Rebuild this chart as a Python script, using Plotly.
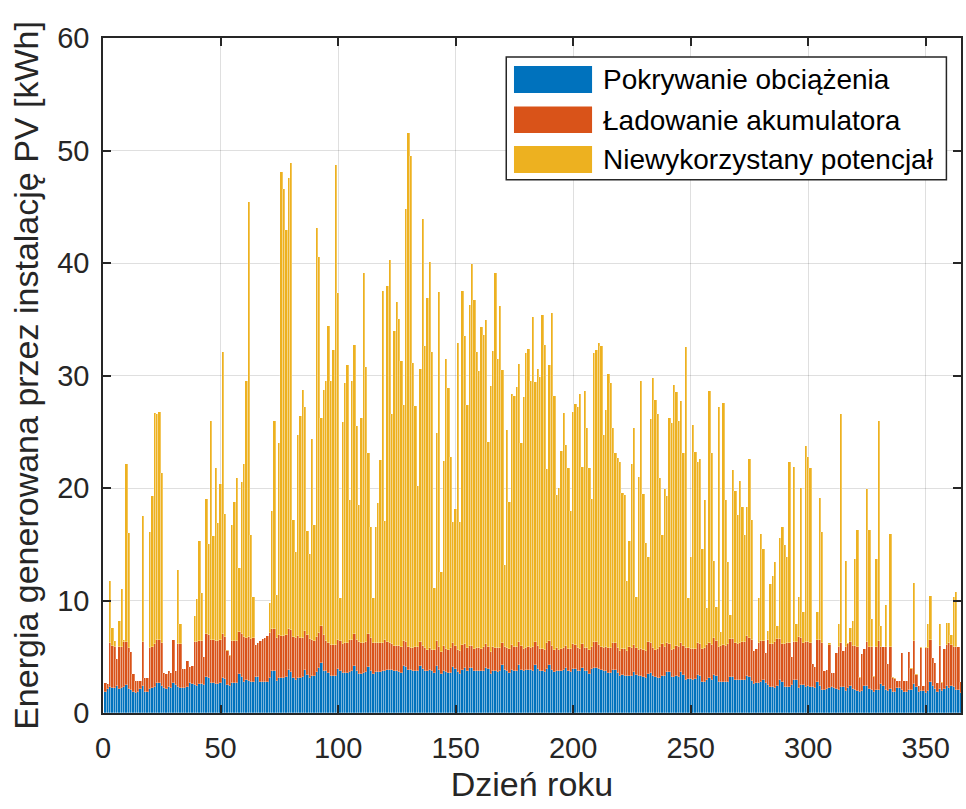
import numpy as np
import plotly.graph_objects as go

days = list(range(1, 366))

# Level of the blue segment (Pokrywanie obciążenia) [kWh]
pokrywanie = [
    1.9, 2.1, 2.35, 2.2, 2.2, 2.4, 2.1, 2.2, 2.35, 2.5,
    2.1, 2.05, 1.9, 1.75, 1.9, 2.1, 2.4, 1.9, 1.9, 2.1,
    2.2, 2.3, 2.7, 2.7, 2.4, 2.2, 2.1, 2.3, 2.25, 2.7,
    2.5, 2.3, 2.2, 2.2, 2.2, 2.35, 2.65, 2.6, 2.5, 2.4,
    2.55, 2.55, 2.5, 3.2, 3.1, 2.7, 2.7, 2.6, 2.55, 2.7,
    3.15, 3.0, 2.5, 2.4, 2.65, 2.65, 2.7, 3.45, 3.2, 2.8,
    2.94, 2.82, 2.73, 2.79, 3.18, 3.18, 2.73, 2.73, 2.79, 2.79,
    3.09, 3.69, 3.69, 2.88, 3.09, 3.12, 3.12, 3.24, 3.78, 3.63,
    3.09, 2.97, 3.09, 3.09, 3.24, 3.84, 3.42, 3.12, 3.27, 3.33,
    3.63, 3.99, 4.47, 3.72, 3.69, 3.54, 3.27, 3.33, 3.33, 3.87,
    3.72, 3.54, 3.54, 3.57, 3.63, 3.69, 4.17, 3.69, 3.48, 3.48,
    3.54, 3.63, 4.08, 3.72, 3.48, 3.63, 3.63, 3.63, 3.69, 3.72,
    3.78, 3.78, 3.78, 3.69, 3.69, 3.63, 3.54, 4.17, 4.08, 3.84,
    3.78, 3.72, 3.72, 3.72, 4.17, 3.87, 3.72, 3.69, 3.78, 3.69,
    3.54, 4.14, 3.78, 3.48, 3.72, 3.63, 3.54, 3.54, 4.08, 3.87,
    3.63, 3.48, 3.78, 3.99, 3.72, 3.99, 3.99, 3.69, 3.69, 3.72,
    3.72, 3.69, 4.02, 3.87, 3.48, 3.69, 3.72, 3.63, 3.72, 4.23,
    3.78, 3.72, 3.57, 3.84, 3.69, 3.72, 4.23, 3.84, 3.69, 3.78,
    3.78, 3.78, 3.69, 4.23, 3.87, 3.69, 3.72, 3.63, 3.93, 4.23,
    3.84, 3.63, 3.72, 3.69, 3.69, 3.78, 3.99, 3.69, 3.63, 3.93,
    3.87, 3.69, 3.72, 3.99, 3.72, 3.69, 3.48, 3.87, 4.02, 3.99,
    3.93, 3.78, 3.72, 3.69, 3.57, 3.54, 3.84, 3.84, 3.54, 3.33,
    3.42, 3.27, 3.27, 3.33, 3.33, 3.63, 3.39, 3.27, 3.27, 3.18,
    3.12, 3.48, 3.57, 3.33, 3.24, 3.09, 3.09, 3.27, 3.27, 3.63,
    3.63, 3.18, 3.18, 3.33, 3.24, 3.63, 3.42, 2.94, 3.03, 3.03,
    2.97, 3.03, 3.39, 3.33, 2.79, 2.79, 2.94, 3.09, 2.97, 3.39,
    3.27, 2.79, 2.79, 2.79, 2.73, 2.79, 3.24, 3.24, 2.94, 2.94,
    2.94, 2.94, 2.94, 3.33, 3.18, 2.88, 2.6, 2.65, 2.7, 2.8,
    2.9, 2.7, 2.45, 2.3, 2.35, 2.2, 2.4, 2.9, 2.8, 2.35,
    2.35, 2.35, 2.45, 2.95, 2.95, 2.2, 2.45, 2.45, 2.35, 2.37,
    2.3, 2.3, 2.2, 2.73, 2.43, 2.04, 2.04, 2.13, 2.22, 2.34,
    2.22, 2.13, 2.07, 2.28, 2.34, 1.98, 2.22, 2.43, 2.13, 2.04,
    1.92, 1.83, 1.98, 2.37, 2.43, 2.13, 2.04, 1.89, 2.04, 2.04,
    2.58, 2.43, 2.04, 1.98, 2.13, 1.89, 1.89, 2.22, 2.22, 2.04,
    1.83, 1.83, 2.04, 2.04, 2.58, 2.34, 1.83, 1.98, 1.92, 1.74,
    1.92, 2.73, 2.43, 2.13, 1.83, 2.13, 1.98, 2.13, 2.37, 2.19,
    2.43, 2.28, 2.04, 2.04, 1.74,
]

# Top of the orange segment (Pokrywanie + Ładowanie) [kWh]
poziom_ladowania = [
    2.7, 2.6, 6.2, 6.0, 5.9, 4.8, 5.9, 5.9, 6.3, 6.3,
    5.8, 5.4, 3.45, 2.85, 2.85, 2.85, 6.3, 3.1, 3.1, 5.8,
    5.9, 6.1, 6.5, 6.5, 6.2, 3.6, 3.45, 3.7, 3.6, 6.5,
    3.7, 6.1, 6.1, 3.9, 3.95, 4.6, 4.1, 4.2, 6.3, 6.3,
    6.4, 6.4, 5.0, 7.0, 6.9, 6.5, 6.5, 6.4, 6.4, 6.5,
    7.0, 6.8, 5.5, 5.1, 6.4, 6.4, 6.4, 7.2, 7.0, 6.79,
    6.64, 6.73, 6.55, 6.7, 6.04, 6.25, 6.4, 6.55, 6.7, 6.85,
    7.09, 7.48, 7.48, 6.7, 6.94, 6.88, 6.85, 6.94, 7.48, 7.39,
    6.79, 6.7, 6.85, 6.7, 6.7, 7.3, 6.94, 6.58, 6.49, 6.43,
    6.79, 7.09, 7.69, 6.94, 6.4, 6.25, 6.04, 6.04, 6.04, 6.49,
    6.4, 6.1, 6.19, 6.25, 6.49, 6.49, 7.0, 6.49, 6.28, 6.25,
    6.25, 6.34, 7.03, 6.7, 6.19, 6.19, 6.19, 6.19, 6.19, 6.49,
    6.34, 6.19, 6.13, 5.95, 5.98, 5.95, 5.89, 6.43, 6.34, 5.89,
    5.8, 5.8, 5.89, 5.89, 6.34, 5.98, 5.74, 5.59, 5.8, 5.59,
    5.59, 6.43, 5.89, 5.44, 5.95, 5.65, 5.59, 5.74, 6.25, 5.98,
    5.59, 5.5, 6.04, 6.1, 5.74, 5.95, 5.95, 5.65, 5.74, 5.74,
    5.65, 5.89, 6.1, 5.89, 5.44, 5.89, 5.8, 5.74, 5.8, 6.25,
    5.89, 5.8, 5.65, 6.04, 5.89, 5.89, 6.34, 5.98, 5.65, 5.8,
    5.89, 5.8, 5.89, 6.34, 5.95, 5.68, 5.68, 5.59, 6.19, 6.4,
    5.95, 5.59, 5.74, 5.59, 5.65, 5.74, 5.95, 5.65, 5.65, 6.13,
    6.04, 5.74, 5.65, 6.1, 5.74, 5.74, 5.59, 5.89, 6.28, 6.28,
    6.04, 5.89, 5.74, 5.89, 5.74, 5.74, 6.19, 6.19, 5.74, 5.53,
    5.65, 5.65, 5.53, 5.89, 5.74, 6.04, 5.8, 5.59, 5.68, 5.59,
    5.53, 6.28, 6.25, 5.74, 5.59, 5.65, 5.89, 6.1, 5.89, 6.25,
    6.13, 5.59, 5.65, 5.95, 5.89, 6.25, 5.95, 5.74, 5.74, 5.65,
    5.65, 5.65, 6.19, 6.1, 5.68, 5.8, 6.04, 6.19, 6.04, 6.7,
    6.4, 5.89, 5.95, 6.04, 5.95, 6.13, 6.58, 6.58, 6.19, 6.1,
    6.25, 6.28, 6.28, 6.85, 6.7, 6.49, 5.5, 5.7, 6.2, 6.4,
    6.4, 5.3, 6.5, 6.1, 6.1, 6.35, 6.6, 6.55, 6.15, 6.15,
    6.2, 6.2, 5.0, 6.3, 6.35, 6.8, 6.7, 6.25, 6.35, 6.3,
    6.2, 4.4, 4.1, 6.49, 6.49, 6.25, 3.72, 3.78, 6.04, 3.54,
    3.54, 5.29, 5.89, 6.19, 5.5, 5.89, 6.1, 6.28, 5.95, 5.95,
    5.89, 3.09, 5.23, 5.65, 6.34, 5.89, 5.89, 3.18, 5.83, 6.43,
    5.83, 5.83, 5.83, 4.32, 5.89, 3.09, 3.03, 2.88, 2.82, 5.29,
    2.88, 2.82, 5.44, 3.93, 6.4, 3.39, 2.4, 5.74, 2.4, 5.74,
    5.8, 6.49, 4.89, 4.44, 2.64, 5.98, 2.64, 5.65, 6.04, 6.25,
    6.04, 5.89, 5.89, 5.83, 2.73,
]

# Total daily PV generation (top of the yellow segment) [kWh]
calkowita = [
    2.7, 2.6, 11.7, 7.6, 6.4, 4.8, 8.2, 11.0, 6.5, 22.1,
    16.0, 5.4, 3.45, 2.85, 2.85, 2.85, 17.5, 3.1, 3.1, 16.1,
    19.3, 26.7, 26.6, 26.8, 21.3, 3.6, 3.45, 3.7, 3.6, 6.5,
    3.7, 12.7, 7.9, 3.9, 3.95, 4.6, 4.1, 4.2, 8.6, 10.1,
    15.3, 10.7, 5.0, 19.0, 15.0, 26.0, 15.7, 21.8, 16.9, 20.4,
    32.1, 17.7, 5.6, 5.2, 16.7, 18.8, 20.9, 12.9, 20.5, 22.1,
    29.5, 45.4, 15.8, 10.3, 6.04, 6.25, 6.4, 6.55, 6.7, 6.85,
    9.8, 18.0, 26.0, 10.5, 24.0, 48.1, 46.6, 42.9, 47.6, 48.9,
    17.2, 14.3, 24.7, 26.4, 28.7, 27.2, 16.2, 14.1, 24.4, 16.7,
    43.1, 40.5, 26.2, 28.7, 29.5, 34.4, 29.5, 32.3, 48.7, 37.3,
    10.2, 25.9, 29.3, 30.9, 18.9, 29.5, 32.7, 25.5, 18.5, 26.2,
    39.1, 30.8, 23.1, 16.5, 10.2, 16.5, 18.7, 22.5, 37.5, 17.1,
    38.0, 40.3, 26.6, 34.0, 36.5, 35.0, 31.3, 27.4, 44.8, 51.6,
    49.5, 31.1, 27.3, 20.2, 30.6, 43.9, 32.6, 36.9, 40.1, 32.1,
    11.1, 24.9, 37.4, 12.5, 22.4, 31.5, 28.9, 22.8, 17.0, 18.1,
    32.9, 17.0, 37.5, 33.5, 27.4, 36.3, 39.9, 36.7, 32.1, 30.4,
    34.3, 33.6, 34.9, 24.1, 29.1, 32.2, 39.1, 31.5, 36.2, 30.5,
    13.2, 25.2, 18.8, 28.4, 28.2, 29.0, 31.0, 24.0, 28.1, 32.0,
    32.4, 29.5, 35.2, 29.4, 30.6, 29.9, 35.4, 32.7, 21.7, 30.9,
    35.6, 28.2, 19.4, 20.0, 23.3, 26.7, 23.8, 21.8, 18.0, 26.8,
    27.5, 27.2, 28.4, 21.9, 28.6, 25.3, 21.8, 19.0, 32.0, 32.3,
    32.9, 32.6, 24.7, 26.9, 30.1, 29.3, 25.3, 23.1, 22.7, 22.3,
    19.6, 19.4, 11.7, 15.3, 22.1, 25.3, 10.3, 21.0, 29.5, 19.5,
    15.1, 13.9, 26.1, 29.8, 27.8, 26.6, 20.9, 15.8, 19.9, 19.3,
    26.2, 25.8, 29.2, 28.5, 26.0, 27.7, 23.1, 32.5, 10.2, 13.9,
    25.6, 23.2, 22.3, 22.6, 14.6, 18.9, 9.3, 28.6, 23.1, 13.5,
    9.4, 27.2, 7.2, 27.6, 18.9, 13.4, 8.7, 21.6, 19.7, 17.6,
    20.6, 18.3, 15.8, 18.3, 22.6, 17.2, 5.5, 5.7, 10.2, 15.9,
    14.6, 5.3, 7.3, 11.5, 12.2, 13.4, 7.7, 15.6, 16.5, 14.9,
    13.9, 22.3, 5.0, 21.9, 7.9, 10.3, 20.0, 9.0, 23.7, 22.8,
    21.8, 4.4, 4.1, 9.0, 19.1, 16.1, 3.72, 3.78, 6.2, 3.54,
    3.54, 5.29, 7.9, 26.6, 5.5, 13.5, 6.2, 7.6, 8.2, 13.7,
    16.3, 3.2, 5.23, 5.65, 19.9, 16.3, 8.4, 3.3, 13.7, 26.0,
    7.7, 5.9, 9.6, 4.32, 15.9, 3.2, 3.1, 2.88, 2.82, 5.29,
    2.88, 2.82, 5.44, 4.0, 11.6, 3.5, 2.4, 5.9, 2.4, 5.9,
    7.9, 10.4, 4.9, 4.44, 2.7, 7.9, 2.8, 5.65, 8.0, 8.0,
    6.9, 10.3, 10.8, 5.9, 2.8,
]

series_names = ["Pokrywanie obciążenia", "Ładowanie akumulatora", "Niewykorzystany potencjał"]
series_colors = ["#0072BD", "#D95319", "#EDB120"]
x_ticks = [0, 50, 100, 150, 200, 250, 300, 350]
y_ticks = [0, 10, 20, 30, 40, 50, 60]

b = np.array(pokrywanie)
r = np.array(poziom_ladowania)
t = np.array(calkowita)
ladowanie = np.maximum(r - b, 0)
niewykorzystany = np.maximum(t - r, 0)

fig = go.Figure()
for name, vals, col in zip(series_names, [b, ladowanie, niewykorzystany], series_colors):
    fig.add_trace(go.Bar(x=days, y=vals, name=name, showlegend=False,
                         marker=dict(color=col, line=dict(width=0.6, color="rgba(255,255,255,0.45)"))))

axis_col = "#262626"
grid_col = "rgba(38,38,38,0.15)"
font_family = "Liberation Sans, Arial, sans-serif"

# Legend drawn as a framed box with colour patches (paper coordinates of the plot area)
shapes = [dict(type="rect", xref="paper", yref="paper", x0=0.470, x1=0.983, y0=0.790, y1=0.972,
               fillcolor="white", line=dict(color=axis_col, width=1.5), layer="above")]
annotations = []
rows = [(0.9185, 0.9585, 0.9378), (0.8593, 0.8985, 0.8785), (0.8000, 0.8400, 0.8200)]
for (y0, y1, yc), name, col in zip(rows, series_names, series_colors):
    shapes.append(dict(type="rect", xref="paper", yref="paper", x0=0.479, x1=0.570, y0=y0, y1=y1,
                       fillcolor=col, line=dict(width=0), layer="above"))
    annotations.append(dict(xref="paper", yref="paper", x=0.580, y=yc, text=name, showarrow=False,
                            xanchor="left", yanchor="middle",
                            font=dict(size=28, color="#000000", family=font_family)))

fig.update_layout(
    width=966, height=809,
    barmode="stack", bargap=0.0,
    paper_bgcolor="white", plot_bgcolor="white",
    margin=dict(l=103, r=3, t=38, b=96),
    font=dict(family=font_family, color=axis_col, size=28),
    showlegend=False,
    shapes=shapes,
    annotations=annotations,
    xaxis=dict(
        range=[0, 365], tickvals=x_ticks, ticks="inside", ticklen=8,
        tickwidth=1.5, tickcolor=axis_col,
        showline=True, linecolor=axis_col, linewidth=1.5, mirror="ticks",
        showgrid=True, gridcolor=grid_col, gridwidth=1, zeroline=False,
        tickfont=dict(size=29, color=axis_col), ticklabelstandoff=8,
        title=dict(text="Dzień roku", font=dict(size=34, color=axis_col), standoff=10),
    ),
    yaxis=dict(
        range=[0, 60], tickvals=y_ticks, ticks="inside", ticklen=8,
        tickwidth=1.5, tickcolor=axis_col,
        showline=True, linecolor=axis_col, linewidth=1.5, mirror="ticks",
        showgrid=True, gridcolor=grid_col, gridwidth=1, zeroline=False,
        tickfont=dict(size=29, color=axis_col), ticklabelstandoff=6,
        title=dict(text="Energia generowana przez instalację PV [kWh]",
                   font=dict(size=34, color=axis_col), standoff=8),
    ),
)

fig.write_html("out.html", config={"displayModeBar": False},
               post_script="document.body.style.margin='0px';document.body.style.overflow='hidden';")
